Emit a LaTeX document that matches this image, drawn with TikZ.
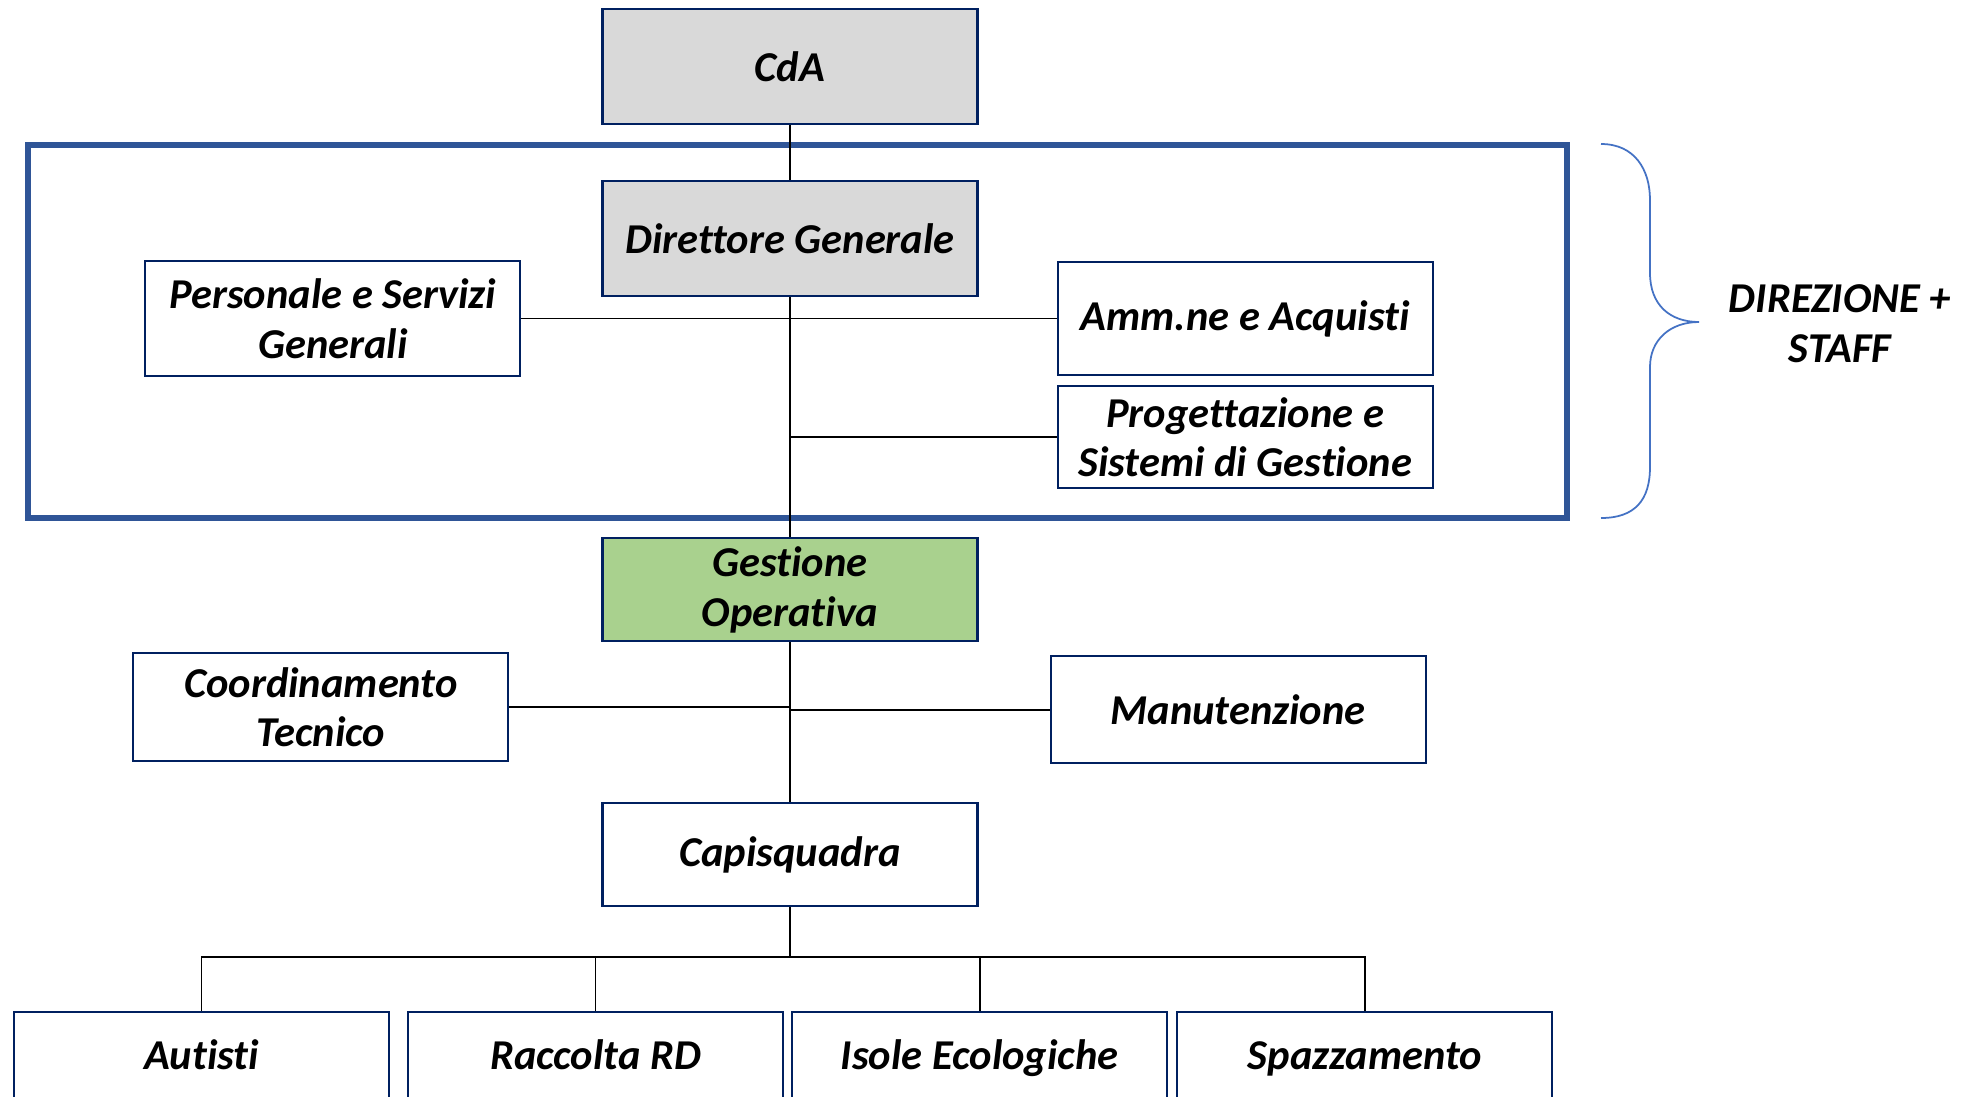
\documentclass[tikz,border=0pt]{standalone}
\usepackage{fontspec}
\setmainfont{Carlito}[Ligatures=CommonOff]
\definecolor{boxNavy}{RGB}{0, 32, 96}
\definecolor{frameBlue}{RGB}{47, 85, 151}
\definecolor{braceBlue}{RGB}{68, 114, 196}
\definecolor{boxGrey}{RGB}{217, 217, 217}
\definecolor{boxGreen}{RGB}{169, 209, 142}
\usetikzlibrary{positioning}

\begin{document}
\begin{tikzpicture}[
    node distance=0.5cm and 0.8cm,
    unit/.style={rectangle, draw=boxNavy, fill=white, line width=0.6pt, inner sep=0pt,
                 minimum width=3.75cm, minimum height=1.03cm, align=center,
                 font=\fontsize{12.1}{14.2}\selectfont\bfseries\itshape},
    top/.style={unit, fill=boxGrey, minimum height=1.15cm},
    ops/.style={unit, fill=boxGreen},
    squad/.style={unit, minimum height=0.92cm, text height=0.66em, text depth=0pt},
    frame/.style={rectangle, draw=frameBlue, line width=1.7pt, inner sep=0pt},
    link/.style={draw=black, line width=0.5pt},
    brace/.style={draw=braceBlue, line width=0.5pt},
    lbl/.style={align=center, font=\fontsize{12.1}{14.2}\selectfont\bfseries\itshape},
  ]
    \useasboundingbox (0,0) rectangle (19.82,-10.96);

    % Direzione + staff frame
    \node[frame, minimum width=15.39cm, minimum height=3.73cm] (DIRFRAME) at (7.975,-3.315) {};

    % Main column
    \node[top] (CDA) at (7.90,-0.665) {CdA};
    \node[top, below=0.55cm of CDA] (DG) {Direttore Generale};
    \node[ops, below=2.40cm of DG] (GO) {\raisebox{-0.2ex}{Gestione}\\\raisebox{-0.2ex}{Operativa}};
    \node[unit, below=1.60cm of GO] (CAPI) {Capisquadra};

    % Staff
    \node[unit, minimum height=1.15cm, left=0.80cm of DG, yshift=-0.80cm] (PERS) {Personale e Servizi\\Generali};
    \node[unit, minimum height=1.13cm, right=0.78cm of DG, yshift=-0.80cm] (AMM) {Amm.ne e Acquisti};
    \node[unit, minimum height=1.02cm, below=0.09cm of AMM] (PROG) {Progettazione e\\Sistemi di Gestione};

    % Gestione operativa
    \node[unit, minimum height=1.08cm, left=0.92cm of GO, yshift=-1.175cm] (COORD) {Coordinamento\\Tecnico};
    \node[unit, minimum height=1.07cm, right=0.71cm of GO, yshift=-1.20cm] (MANUT) {Manutenzione};

    % Squadre
    \node[squad] (AUT) at (2.015,-10.58) {Autisti};
    \node[squad, right=0.17cm of AUT] (RD) {Raccolta RD};
    \node[squad, right=0.07cm of RD] (ISOLE) {Isole Ecologiche};
    \node[squad, right=0.08cm of ISOLE] (SPAZ) {Spazzamento};
    \coordinate[above=0.54cm of AUT] (BUS);

    % Brace + label
    \draw[brace] (16.01,-1.44) .. controls (16.35,-1.44) and (16.50,-1.70) .. (16.50,-2.00)
      -- (16.50,-2.73) .. controls (16.50,-3.05) and (16.70,-3.22) .. (16.99,-3.22)
      .. controls (16.70,-3.22) and (16.50,-3.40) .. (16.50,-3.67)
      -- (16.50,-4.67) .. controls (16.50,-5.00) and (16.35,-5.18) .. (16.01,-5.18);
    \node[lbl] (DIRLBL) at (18.40,-3.24) {DIREZIONE +\\STAFF};

    \draw[link] (CDA) -- (DG);
    \draw[link] (DG) -- (GO);
    \draw[link] (PERS.east) -- (PERS.east -| DG.south);
    \draw[link] (AMM.west) -- (AMM.west -| DG.south);
    \draw[link] (PROG.west) -- (PROG.west -| DG.south);
    \draw[link] (GO) -- (CAPI);
    \draw[link] (COORD.east) -- (COORD.east -| GO.south);
    \draw[link] (MANUT.west) -- (MANUT.west -| GO.south);
    \draw[link] (CAPI.south) -- (CAPI.south |- BUS);
    \draw[link] (AUT.north) -- (BUS) -| (SPAZ.north);
    \draw[link] (RD.north) -- (RD.north |- BUS);
    \draw[link] (ISOLE.north) -- (ISOLE.north |- BUS);
  \end{tikzpicture}
\end{document}
